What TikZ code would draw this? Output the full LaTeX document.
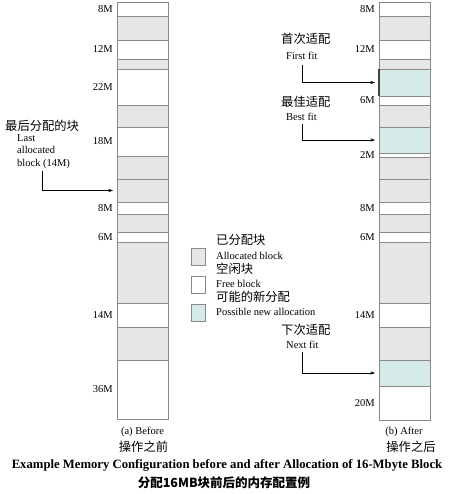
\documentclass[tikz,border=0pt]{standalone}
\usepackage{fontspec}
\setmainfont{Liberation Serif}
\newfontfamily\cjk{Noto Sans CJK SC}
\usetikzlibrary{arrows.meta}
\definecolor{linegray}{HTML}{8A8A8A}
\definecolor{allocgray}{HTML}{E6E6E8}
\definecolor{newteal}{HTML}{D5EAE7}
\newcommand\mb[5]{\node[#5, minimum height={#4-#3}] (#1) at (#2,#3) {};}
\begin{document}
\begin{tikzpicture}[x=1pt,y=-1pt,
  mem/.style={draw=linegray, line width=0.8pt, minimum width=51pt, inner sep=0pt, outer sep=0pt, anchor=north west},
  alloc/.style={mem, fill=allocgray},
  free/.style={mem, fill=white},
  newa/.style={mem, fill=newteal},
  size/.style={left=4pt, inner sep=0pt, font=\fontsize{10.5}{12}\selectfont},
  en/.style={inner sep=0pt, font=\fontsize{10.5}{12.8}\selectfont, align=left},
  zh/.style={inner sep=0pt, font=\cjk\fontsize{12.3}{15}\selectfont},
  arr/.style={-{Stealth[length=4.5pt,width=3pt]}, line width=0.6pt, shorten >=4pt},
  key/.style={draw=linegray, line width=0.8pt, minimum width=14pt, minimum height=17pt, inner sep=0pt, anchor=north west}
]
\useasboundingbox (0,0) rectangle (452,494);
% left column (before)
\mb{a1}{117}{2}{16}{free}
\mb{a2}{117}{16}{40}{alloc}
\mb{a3}{117}{40}{59}{free}
\mb{a4}{117}{59}{69}{alloc}
\mb{a5}{117}{69}{105}{free}
\mb{a6}{117}{105}{127}{alloc}
\mb{a7}{117}{127}{156}{free}
\mb{a8}{117}{156}{179}{alloc}
\mb{a9}{117}{179}{202}{alloc}
\mb{a10}{117}{202}{214}{free}
\mb{a11}{117}{214}{232}{alloc}
\mb{a12}{117}{232}{242}{free}
\mb{a13}{117}{242}{303}{alloc}
\mb{a14}{117}{303}{327}{free}
\mb{a15}{117}{327}{360}{alloc}
\mb{a16}{117}{360}{419}{free}
% right column (after)
\mb{b1}{379}{2}{16}{free}
\mb{b2}{379}{16}{40}{alloc}
\mb{b3}{379}{40}{59}{free}
\mb{b4}{379}{59}{69}{alloc}
\mb{b5}{379}{69}{96}{newa}
\mb{b6}{379}{96}{105}{free}
\mb{b7}{379}{105}{127}{alloc}
\mb{b8}{379}{127}{153}{newa}
\mb{b9}{379}{153}{157}{free}
\mb{b10}{379}{157}{179}{alloc}
\mb{b11}{379}{179}{202}{alloc}
\mb{b12}{379}{202}{214}{free}
\mb{b13}{379}{214}{232}{alloc}
\mb{b14}{379}{232}{242}{free}
\mb{b15}{379}{242}{303}{alloc}
\mb{b16}{379}{303}{327}{free}
\mb{b17}{379}{327}{360}{alloc}
\mb{b18}{379}{360}{386}{newa}
\mb{b19}{379}{386}{420}{free}
\draw[line width=1.1pt, black!75] (b5.north west) -- (b5.south west);
% size labels
\node[size] at (a1.west) {8M};
\node[size] at (a3.west) {12M};
\node[size] at (a5.west) {22M};
\node[size] at (a7.west) {18M};
\node[size] at (a10.west) {8M};
\node[size] at (a12.west) {6M};
\node[size] at (a14.west) {14M};
\node[size] at (a16.west) {36M};
\node[size] at (b1.west) {8M};
\node[size] at (b3.west) {12M};
\node[size] at (b6.west) {6M};
\node[size] at (b9.west) {2M};
\node[size] at (b12.west) {8M};
\node[size] at (b14.west) {6M};
\node[size] at (b16.west) {14M};
\node[size] at (b19.west) {20M};
% last allocated
\node[zh, anchor=west] (lastzh) at (5,126) {最后分配的块};
\node[en, anchor=north west] (lasten) at (17,134) {Last\\allocated\\block (14M)};
\coordinate (lastc) at (42,171);
\draw[arr] (lastc) |- (a9.west);
% first fit
\node[zh, anchor=west] (ffzh) at (281,39) {首次适配};
\node[en, anchor=west] (ffen) at (286,56) {First fit};
\coordinate (ffc) at (302,65);
\draw[arr] (ffc) |- (b5.west);
% best fit
\node[zh, anchor=west] (bfzh) at (281,102) {最佳适配};
\node[en, anchor=west] (bfen) at (286,117) {Best fit};
\coordinate (bfc) at (302,124);
\draw[arr] (bfc) |- (b8.west);
% next fit
\node[zh, anchor=west] (nfzh) at (281,330) {下次适配};
\node[en, anchor=west] (nfen) at (286,345) {Next fit};
\coordinate (nfc) at (302,352);
\draw[arr] (nfc) |- (b18.west);
% legend
\node[key, fill=allocgray] (k1) at (191,248) {};
\node[key, fill=white] (k2) at (191,276) {};
\node[key, fill=newteal] (k3) at (191,304) {};
\node[zh, anchor=west] at (216,240) {已分配块};
\node[en, anchor=west] at (216,256) {Allocated block};
\node[zh, anchor=west] at (216,269) {空闲块};
\node[en, anchor=west] at (216,284) {Free block};
\node[zh, anchor=west] at (216,297) {可能的新分配};
\node[en, anchor=west] at (216,312) {Possible new allocation};
% captions
\node[en] (capa) at (142.5,432) {(a) Before};
\node[zh] (capazh) at (143.5,447) {操作之前};
\node[en] (capb) at (404,432) {(b) After};
\node[zh] (capbzh) at (411,447) {操作之后};
\node[inner sep=0pt, font=\bfseries\fontsize{12.7}{14}\selectfont] (title) at (227,465) {Example Memory Configuration before and after Allocation of 16-Mbyte Block};
\node[inner sep=0pt, font=\cjk\bfseries\fontsize{12.5}{14}\selectfont] (titlezh) at (224,483) {分配16MB块前后的内存配置例};
\end{tikzpicture}
\end{document}
